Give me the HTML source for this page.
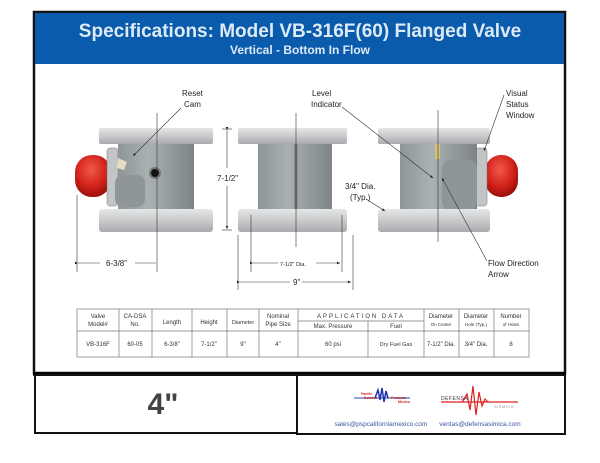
<!DOCTYPE html>
<html><head><meta charset="utf-8"><style>
html,body{margin:0;padding:0;background:#fff;width:600px;height:463px;overflow:hidden}
svg{display:block}
text{font-family:"Liberation Sans",sans-serif}
</style></head><body>
<svg width="600" height="463" viewBox="0 0 600 463" xmlns="http://www.w3.org/2000/svg">
<defs>
<linearGradient id="fl" x1="0" y1="0" x2="0" y2="1"><stop offset="0" stop-color="#e4e6e8"/><stop offset="0.5" stop-color="#c8cacc"/><stop offset="1" stop-color="#a9abae"/></linearGradient>
<linearGradient id="bd" x1="0" y1="0" x2="1" y2="0"><stop offset="0" stop-color="#8e9598"/><stop offset="0.4" stop-color="#aab1b3"/><stop offset="1" stop-color="#7d8487"/></linearGradient>
<radialGradient id="rd" cx="0.45" cy="0.35" r="0.7"><stop offset="0" stop-color="#f25a4a"/><stop offset="0.6" stop-color="#d0201a"/><stop offset="1" stop-color="#8e0e0a"/></radialGradient>
<marker id="ah" markerWidth="6" markerHeight="6" refX="5" refY="3" orient="auto"><path d="M0,0.8 L5,3 L0,5.2z" fill="#222"/></marker>
</defs>
<!-- frame -->
<rect x="34" y="12" width="531" height="361" fill="#fff" stroke="#111" stroke-width="2.5"/>
<rect x="35" y="13" width="529" height="51" fill="#0a5bab"/>
<text x="300" y="37" text-anchor="middle" font-size="19" font-weight="bold" fill="#dce9f6">Specifications: Model VB-316F(60) Flanged Valve</text>
<text x="300" y="54" text-anchor="middle" font-size="12" font-weight="bold" fill="#dce9f6">Vertical - Bottom In Flow</text>

<!-- valve 1 -->
<rect x="75" y="155" width="36" height="42" rx="17" fill="url(#rd)"/>
<rect x="107" y="148" width="11" height="58" rx="3" fill="#c2c4c6" stroke="#777" stroke-width="0.5"/>
<rect x="118" y="142" width="76" height="70" fill="url(#bd)"/>
<rect x="115" y="175" width="30" height="32" rx="8" fill="#8f969a"/>
<circle cx="155" cy="173" r="5" fill="#111" stroke="#777" stroke-width="2"/>
<rect x="99" y="128" width="114" height="16" rx="2" fill="url(#fl)"/>
<rect x="99" y="209" width="114" height="23" rx="3" fill="url(#fl)"/>
<polygon points="118,158 127,162 124,170 117,168" fill="#e8dcc0"/>
<!-- valve 2 -->
<rect x="258" y="142" width="74" height="70" fill="url(#bd)"/>
<line x1="296" y1="142" x2="296" y2="212" stroke="#777" stroke-width="3"/>
<rect x="238" y="128" width="109" height="16" rx="2" fill="url(#fl)"/>
<rect x="238" y="209" width="109" height="23" rx="3" fill="url(#fl)"/>
<!-- valve 3 -->
<rect x="485" y="155" width="33" height="42" rx="16" fill="url(#rd)"/>
<rect x="475" y="148" width="12" height="58" rx="3" fill="#c2c4c6" stroke="#777" stroke-width="0.5"/>
<rect x="400" y="142" width="77" height="70" fill="url(#bd)"/>
<rect x="442" y="160" width="35" height="50" rx="8" fill="#8f969a"/>
<rect x="435" y="140" width="5" height="19" fill="#d6c27a"/>
<rect x="378" y="128" width="112" height="16" rx="2" fill="url(#fl)"/>
<rect x="378" y="209" width="112" height="23" rx="3" fill="url(#fl)"/>

<!-- center lines & dims -->
<g stroke="#333" stroke-width="0.6" fill="none">
<line x1="157" y1="113" x2="157" y2="272"/>
<line x1="296" y1="113" x2="296" y2="247"/>
<line x1="438" y1="110" x2="438" y2="242"/>
<line x1="77" y1="195" x2="77" y2="272"/>
<line x1="78" y1="263" x2="100" y2="263" marker-start="url(#ah)"/>
<line x1="135" y1="263" x2="156" y2="263"/>
<line x1="222" y1="129" x2="232" y2="129"/><line x1="222" y1="230" x2="232" y2="230"/>
<line x1="227" y1="130" x2="227" y2="168" marker-start="url(#ah)"/>
<line x1="227" y1="186" x2="227" y2="229" marker-end="url(#ah)"/>
<line x1="251" y1="215" x2="251" y2="272"/><line x1="342" y1="215" x2="342" y2="272"/>
<line x1="253" y1="263" x2="278" y2="263" marker-start="url(#ah)"/>
<line x1="316" y1="263" x2="340" y2="263" marker-end="url(#ah)"/>
<line x1="238" y1="235" x2="238" y2="290"/><line x1="353" y1="235" x2="353" y2="290"/>
<line x1="240" y1="282" x2="290" y2="282" marker-start="url(#ah)"/>
<line x1="302" y1="282" x2="351" y2="282" marker-end="url(#ah)"/>
<line x1="181" y1="108" x2="133" y2="156" marker-end="url(#ah)"/>
<line x1="342" y1="107" x2="433" y2="178" marker-end="url(#ah)"/>
<line x1="504" y1="95" x2="484" y2="151" marker-end="url(#ah)"/>
<line x1="366" y1="199" x2="385" y2="211" marker-end="url(#ah)"/>
<line x1="487" y1="261" x2="442" y2="178" marker-end="url(#ah)"/>
</g>
<g font-size="8" fill="#222">
<text x="182" y="96">Reset</text><text x="184" y="107">Cam</text>
<text x="312" y="96">Level</text><text x="311" y="107">Indicator</text>
<text x="506" y="96">Visual</text><text x="506" y="107">Status</text><text x="506" y="118">Window</text>
<text x="217" y="181">7-1/2"</text>
<text x="345" y="189">3/4" Dia.</text><text x="350" y="200">(Typ.)</text>
<text x="106" y="266">6-3/8"</text>
<text x="293" y="285">9"</text>
<text x="488" y="266">Flow Direction</text><text x="488" y="277">Arrow</text>
<text x="280" y="266" font-size="5.5">7-1/2" Dia.</text>
</g>

<!-- table -->
<g stroke="#777" stroke-width="0.7" fill="none">
<rect x="77" y="309" width="452" height="48"/>
<line x1="77" y1="331" x2="529" y2="331"/>
<line x1="298" y1="321" x2="424" y2="321"/>
<line x1="119" y1="309" x2="119" y2="357"/><line x1="152" y1="309" x2="152" y2="357"/>
<line x1="192" y1="309" x2="192" y2="357"/><line x1="227" y1="309" x2="227" y2="357"/>
<line x1="259" y1="309" x2="259" y2="357"/><line x1="298" y1="309" x2="298" y2="357"/>
<line x1="368" y1="321" x2="368" y2="357"/><line x1="424" y1="309" x2="424" y2="357"/>
<line x1="459" y1="309" x2="459" y2="357"/><line x1="494" y1="309" x2="494" y2="357"/>
</g>
<g font-size="6" fill="#333" text-anchor="middle">
<text x="98" y="318">Valve</text><text x="98" y="326">Model#</text>
<text x="135" y="318">CA-DSA</text><text x="135" y="326">No.</text>
<text x="172" y="324">Length</text><text x="209" y="324">Height</text>
<text x="243" y="324" font-size="5.5">Diameter</text>
<text x="278" y="318">Nominal</text><text x="278" y="326">Pipe Size</text>
<text x="361" y="318" letter-spacing="2">APPLICATION    DATA</text>
<text x="333" y="328">Max. Pressure</text><text x="396" y="328">Fuel</text>
<text x="441" y="318">Diameter</text><text x="441" y="326" font-size="4.5">On Center</text>
<text x="476" y="318">Diameter</text><text x="476" y="326" font-size="4.5">Hole (Typ.)</text>
<text x="511" y="318">Number</text><text x="511" y="326" font-size="4.5">of Holes</text>
<text x="98" y="346">VB-316F</text><text x="135" y="346">60-05</text>
<text x="172" y="346">6-3/8"</text><text x="209" y="346">7-1/2"</text>
<text x="243" y="346">9"</text><text x="278" y="346">4"</text>
<text x="333" y="346">60 psi</text><text x="396" y="346" font-size="5.5">Dry Fuel Gas</text>
<text x="441" y="346">7-1/2" Dia.</text><text x="476" y="346">3/4" Dia.</text><text x="511" y="346">8</text>
</g>

<!-- bottom boxes -->
<line x1="33" y1="374" x2="566" y2="374" stroke="#000" stroke-width="3.5"/>
<rect x="35" y="375" width="262" height="58" fill="none" stroke="#111" stroke-width="2"/>
<rect x="297" y="375" width="268" height="59" fill="none" stroke="#111" stroke-width="2"/>
<text x="163" y="414" text-anchor="middle" font-size="30" font-weight="bold" fill="#444">4"</text>
<!-- logos -->
<line x1="354" y1="398" x2="410" y2="398" stroke="#3344aa" stroke-width="1"/>
<path d="M375,398 L378,390 L380,400 L382,388 L384,402 L386,391 L388,398" stroke="#2233aa" stroke-width="1.5" fill="none"/>
<text x="361" y="395" font-size="3.5" fill="#c22" font-weight="bold">Pacific</text>
<text x="364" y="399" font-size="3.5" fill="#c22" font-weight="bold">Seismic</text>
<text x="391" y="399" font-size="3.5" fill="#c22" font-weight="bold">Products</text>
<text x="398" y="403" font-size="3.5" fill="#c22" font-weight="bold">Mexico</text>
<text x="441" y="400" font-size="5" fill="#333" letter-spacing="0.5">DEFENSA</text>
<line x1="441" y1="402" x2="518" y2="402" stroke="#d22" stroke-width="1.2"/>
<path d="M462,402 L467,394 L470,410 L473,386 L476,415 L479,392 L482,406 L485,399 L488,402" stroke="#d22" stroke-width="1.2" fill="none"/>
<text x="494" y="408" font-size="4" fill="#999" letter-spacing="0.5">SISMICA</text>
<text x="381" y="426" text-anchor="middle" font-size="6.5" fill="#3a55a0">sales@pspcaliforniamexico.com</text>
<text x="480" y="426" text-anchor="middle" font-size="6.5" fill="#3a55a0">ventas@defensasimica.com</text>
</svg>
</body></html>
